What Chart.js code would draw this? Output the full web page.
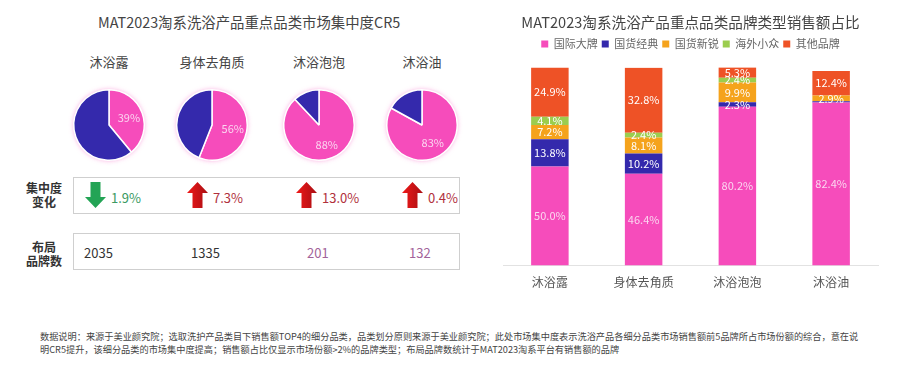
<!DOCTYPE html>
<html>
<head>
<meta charset="utf-8">
<script src="https://cdn.jsdelivr.net/npm/chart.js@4.4.1/dist/chart.umd.min.js"></script>
<style>
  body { margin:0; background:#fff; font-family:"Noto Sans CJK SC","Noto Sans",sans-serif; }
  #wrap { position:relative; width:898px; height:369px; overflow:hidden; }
  .abs { position:absolute; }
  .title { font-size:14.4px; color:#444; white-space:nowrap; }
  .cat { font-size:13px; color:#444; width:100px; text-align:center; }
  .box { border:1px solid #cfcfcf; }
  .rowlab { font-size:12px; font-weight:bold; color:#333; text-align:center; width:50px; line-height:14px; }
  .val { font-size:13px; white-space:nowrap; }
  .foot { font-size:9.2px; color:#444; white-space:nowrap; line-height:13px; }
</style>
</head>
<body>
<div id="wrap">
  <div class="abs title" style="left:98px;top:11px;">MAT2023淘系洗浴产品重点品类市场集中度CR5</div>
  <div id="left"></div>
  <div class="abs box" style="left:73px;top:177px;width:385px;height:35px;"></div>
  <div class="abs box" style="left:73px;top:233px;width:385px;height:35px;"></div>
  <div class="abs rowlab" style="left:19px;top:181px;">集中度<br>变化</div>
  <div class="abs rowlab" style="left:19px;top:240px;">布局<br>品牌数</div>
  <canvas id="bars" class="abs" style="left:490px;top:0;" width="408" height="300"></canvas>
  <div class="abs foot" style="left:40px;top:330px;">数据说明：来源于美业颜究院；选取洗护产品类目下销售额TOP4的细分品类，品类划分原则来源于美业颜究院；此处市场集中度表示洗浴产品各细分品类市场销售额前5品牌所占市场份额的综合，意在说<br>明CR5提升，该细分品类的市场集中度提高；销售额占比仅显示市场份额>2%的品牌类型；布局品牌数统计于MAT2023淘系平台有销售额的品牌</div>
</div>
<script>
// 左侧：CR5
var cats = ['沐浴露', '身体去角质', '沐浴泡泡', '沐浴油'];
var cr5 = [39, 56, 88, 83];
var crChange = [-1.9, 7.3, 13.0, 0.4];
var brandCount = [2035, 1335, 201, 132];

// 右侧：品牌类型销售额占比
var series = ['国际大牌', '国货经典', '国货新锐', '海外小众', '其他品牌'];
var intlBig = [50.0, 46.4, 80.2, 82.4];
var domClassic = [13.8, 10.2, 2.3, 0.6];
var domNew = [7.2, 8.1, 9.9, 2.9];
var overseas = [4.1, 2.4, 2.4, 0];
var others = [24.9, 32.8, 5.3, 12.4];

var PINK = '#f64cbb', NAVY = '#3429ac';
var pieX = [109, 212, 319, 422];
var changeX = [85, 187, 296, 402];
var countX = [84, 191, 307, 409];

var left = document.getElementById('left');

var pieGlow = {
  id: 'pieGlow',
  beforeDatasetsDraw: function(chart) {
    var a = chart.getDatasetMeta(0).data[0];
    var ctx = chart.ctx;
    ctx.save();
    ctx.shadowColor = 'rgba(246,76,187,0.55)';
    ctx.shadowBlur = 5;
    ctx.fillStyle = '#fff';
    ctx.beginPath();
    ctx.arc(a.x, a.y, a.outerRadius, 0, Math.PI * 2);
    ctx.fill();
    ctx.restore();
  },
  afterDatasetsDraw: function(chart) {
    var a = chart.getDatasetMeta(0).data[0];
    var mid = (a.startAngle + a.endAngle) / 2;
    var r = a.outerRadius * 0.6;
    var ctx = chart.ctx;
    ctx.save();
    ctx.fillStyle = '#fbd6f0';
    ctx.font = '11px "Noto Sans CJK SC"';
    ctx.textAlign = 'center';
    ctx.textBaseline = 'middle';
    ctx.fillText(chart.data.datasets[0].data[0] + '%', a.x + Math.cos(mid) * r, a.y + Math.sin(mid) * r);
    ctx.restore();
  }
};

cats.forEach(function(c, i) {
  var lab = document.createElement('div');
  lab.className = 'abs cat';
  lab.style.left = (pieX[i] - 50) + 'px';
  lab.style.top = '52px';
  lab.textContent = c;
  left.appendChild(lab);

  var cv = document.createElement('canvas');
  cv.width = 90; cv.height = 90;
  cv.className = 'abs';
  cv.style.left = (pieX[i] - 45) + 'px';
  cv.style.top = '80px';
  left.appendChild(cv);
  new Chart(cv, {
    type: 'pie',
    data: {
      labels: ['CR5', '其他'],
      datasets: [{
        data: [cr5[i], 100 - cr5[i]],
        backgroundColor: [PINK, NAVY],
        borderColor: '#fff',
        borderWidth: 1.5
      }]
    },
    options: {
      responsive: false,
      animation: false,
      layout: { padding: 9 },
      plugins: { legend: { display: false }, tooltip: { enabled: false } }
    },
    plugins: [pieGlow]
  });

  // 集中度变化
  var up = crChange[i] >= 0;
  var arrow = document.createElement('div');
  arrow.className = 'abs';
  arrow.style.left = changeX[i] + 'px';
  arrow.style.top = '182px';
  arrow.innerHTML = up
    ? '<svg width="21" height="26"><defs><linearGradient id="gu' + i + '" x1="0" x2="1"><stop offset="0" stop-color="#f01818"/><stop offset="1" stop-color="#a80f14"/></linearGradient></defs><polygon points="10.5,0 21,11 15.5,11 15.5,26 5.5,26 5.5,11 0,11" fill="url(#gu' + i + ')"/></svg>'
    : '<svg width="21" height="26"><polygon points="5.5,0 15.5,0 15.5,15 21,15 10.5,26 0,15 5.5,15" fill="#23a455"/></svg>';
  left.appendChild(arrow);
  var cv2 = document.createElement('div');
  cv2.className = 'abs val';
  cv2.style.left = (changeX[i] + 26) + 'px';
  cv2.style.top = '188px';
  cv2.style.color = up ? '#b0303c' : '#3a9a62';
  cv2.textContent = Math.abs(crChange[i]).toFixed(1) + '%';
  left.appendChild(cv2);

  // 布局品牌数
  var bc = document.createElement('div');
  bc.className = 'abs val';
  bc.style.left = countX[i] + 'px';
  bc.style.top = '243px';
  bc.style.color = brandCount[i] > 1000 ? '#333' : '#a2639a';
  bc.textContent = brandCount[i];
  left.appendChild(bc);
});

var barLabels = {
  id: 'barLabels',
  afterDatasetsDraw: function(chart) {
    var ctx = chart.ctx;
    ctx.save();
    ctx.font = '11px "Noto Sans CJK SC"';
    ctx.textAlign = 'center';
    ctx.textBaseline = 'middle';
    chart.data.datasets.forEach(function(ds, di) {
      chart.getDatasetMeta(di).data.forEach(function(bar, j) {
        var v = ds.data[j];
        if (v <= 2) return;
        ctx.fillStyle = di === 0 ? '#fbd6f0' : '#fff';
        ctx.fillText(v.toFixed(1) + '%', bar.x, (bar.y + bar.base) / 2);
      });
    });
    ctx.restore();
  }
};

// 图例下方留白
var legendGap = {
  id: 'legendGap',
  beforeInit: function(chart) {
    var fit = chart.legend.fit;
    chart.legend.fit = function() {
      fit.bind(chart.legend)();
      this.height += 8;
    };
  }
};

var colors = [PINK, NAVY, '#f5a31c', '#9bcd4e', '#ee5226'];
var vals = [intlBig, domClassic, domNew, overseas, others];

new Chart(document.getElementById('bars'), {
  type: 'bar',
  data: {
    labels: cats,
    datasets: series.map(function(s, k) {
      return {
        label: s,
        data: vals[k],
        backgroundColor: colors[k],
        barPercentage: 0.4,
        categoryPercentage: 1
      };
    })
  },
  options: {
    responsive: false,
    animation: false,
    layout: { padding: { left: 13, right: 20, top: 4, bottom: 8 } },
    scales: {
      x: {
        stacked: true,
        grid: { display: false },
        border: { color: '#e2e2e2' },
        ticks: { color: '#555', font: { size: 12, family: 'Noto Sans CJK SC' }, padding: 2 }
      },
      y: { stacked: true, display: false, min: 0, max: 100 }
    },
    plugins: {
      title: {
        display: true,
        text: 'MAT2023淘系洗浴产品重点品类品牌类型销售额占比',
        color: '#444',
        font: { size: 14.6, weight: 'normal', family: 'Noto Sans CJK SC' },
        padding: { top: 10, bottom: 3 }
      },
      legend: {
        labels: {
          boxWidth: 7, boxHeight: 7, padding: 4,
          color: '#666',
          font: { size: 11, family: 'Noto Sans CJK SC' }
        }
      },
      tooltip: { enabled: false }
    }
  },
  plugins: [barLabels, legendGap]
});
</script>
</body>
</html>
